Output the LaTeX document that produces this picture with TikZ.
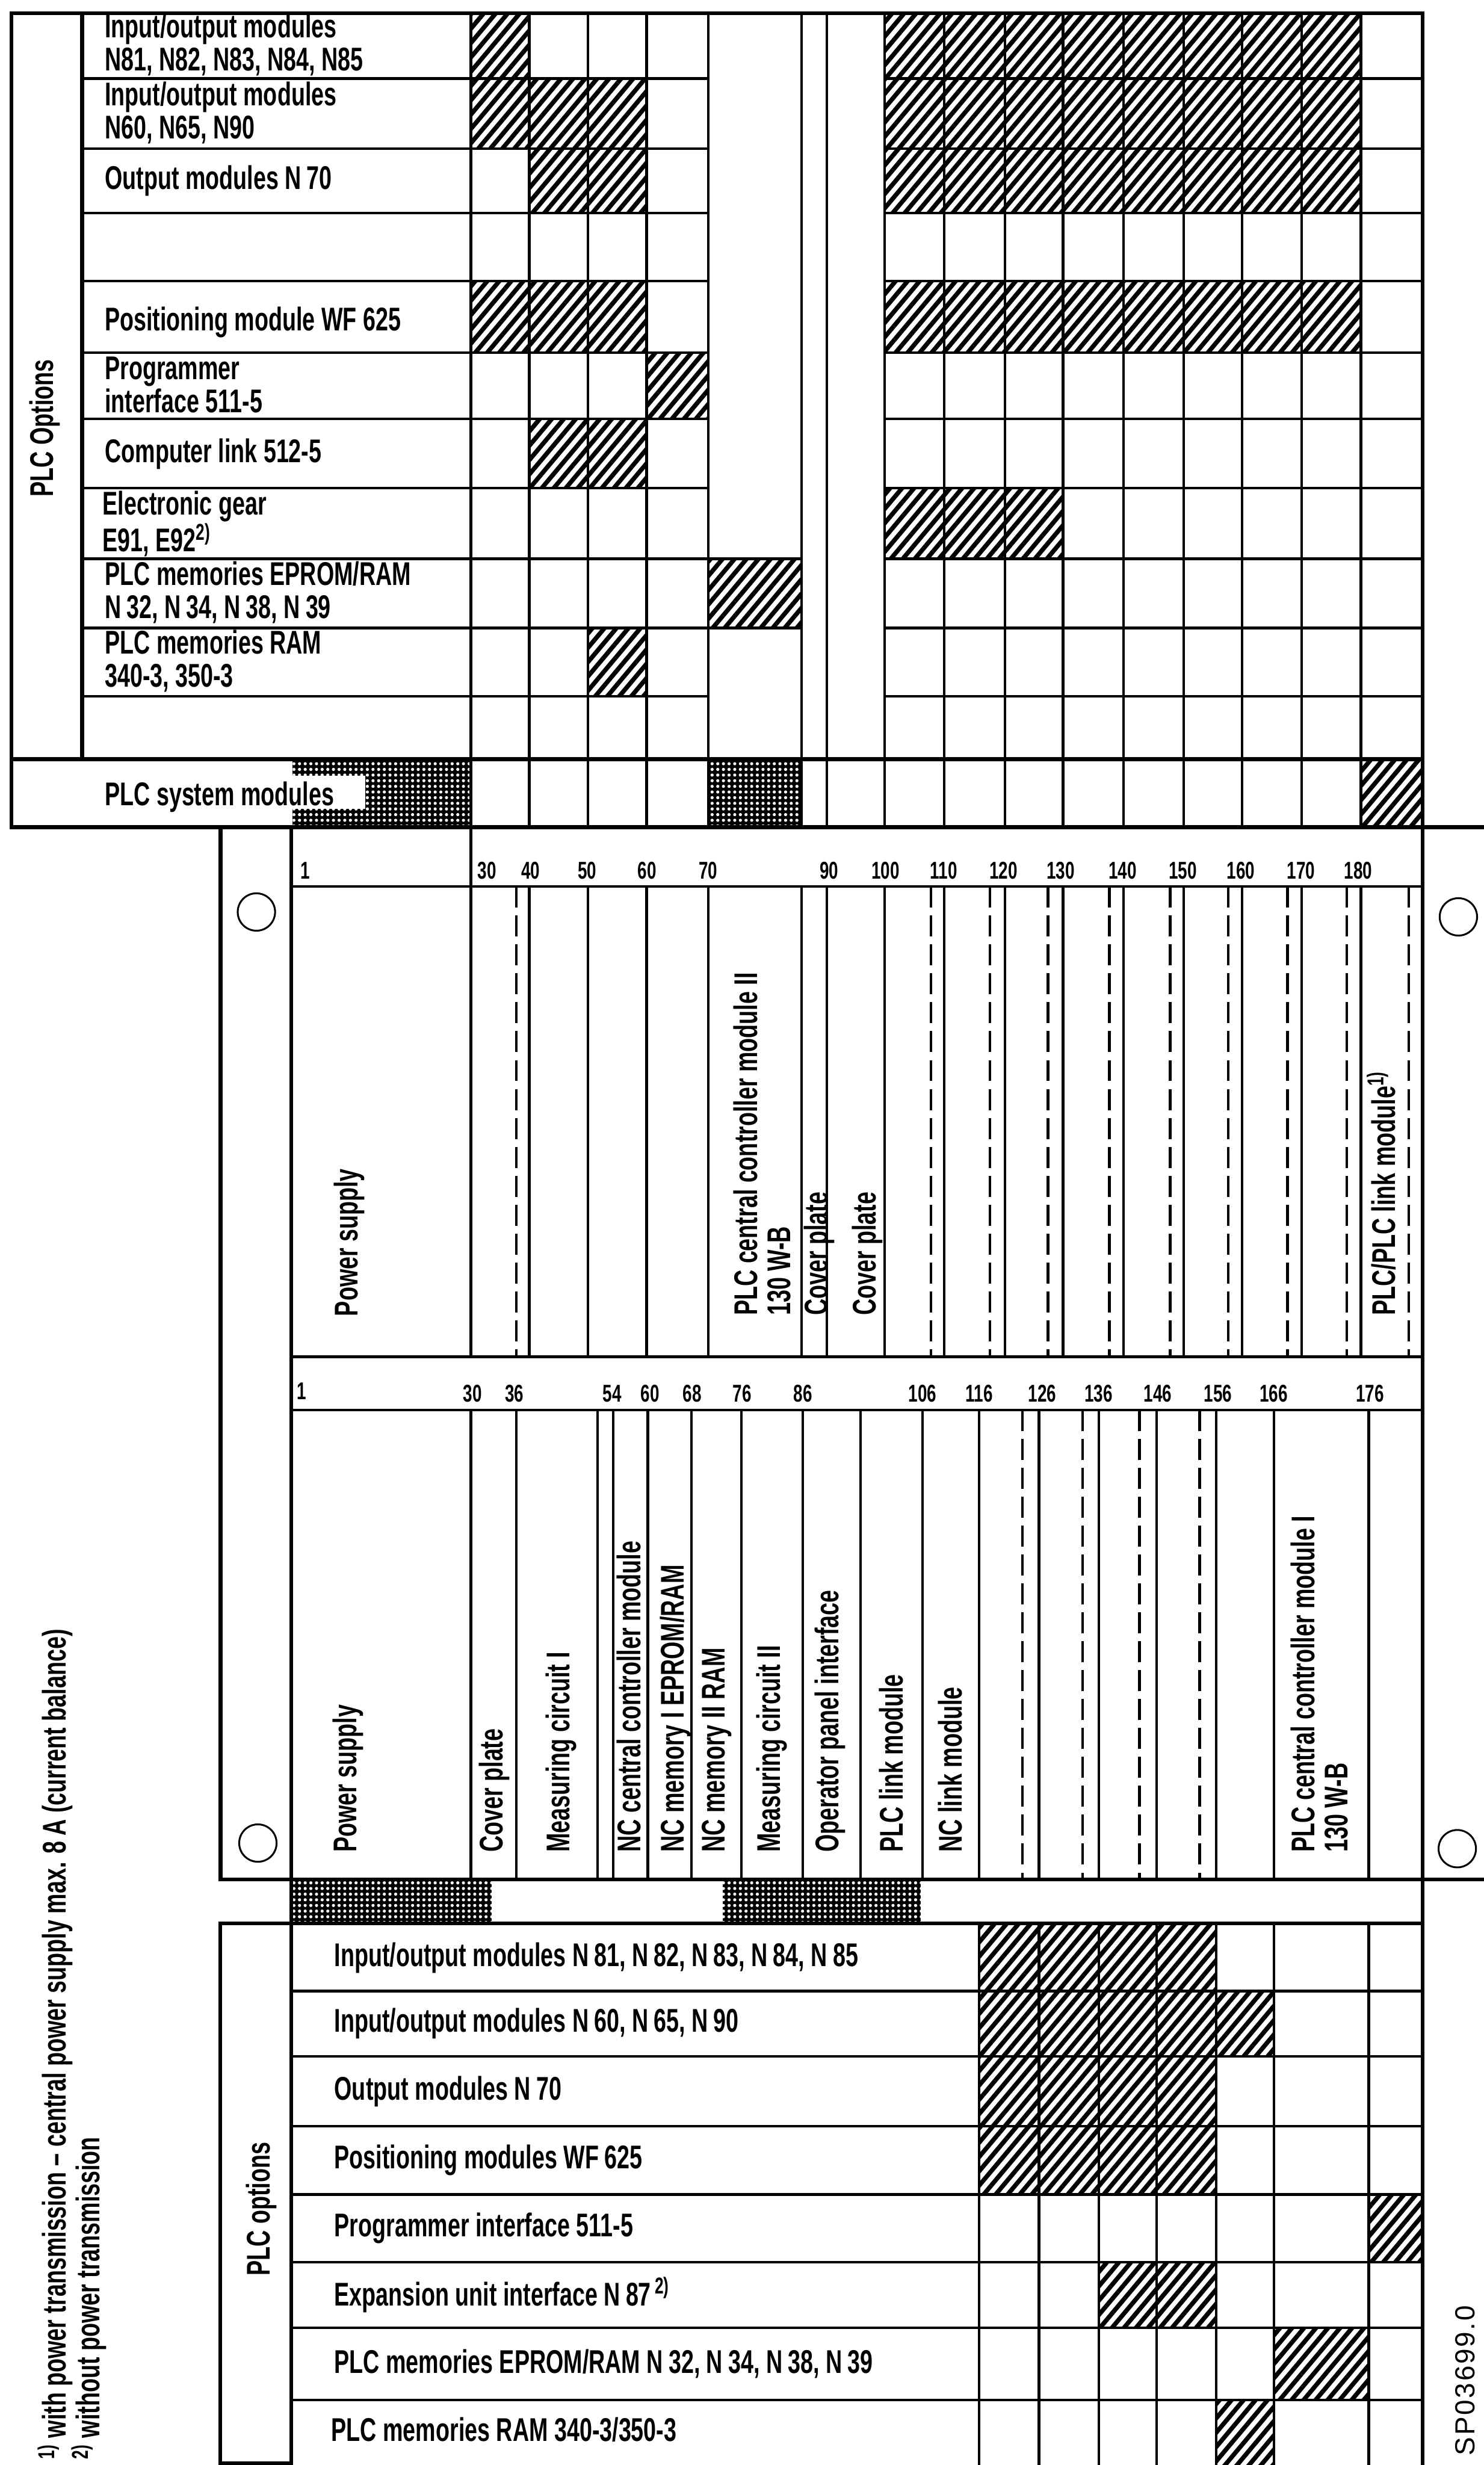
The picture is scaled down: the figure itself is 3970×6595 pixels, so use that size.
\documentclass[tikz,border=0pt]{standalone}
\usepackage{fontspec}
\setmainfont{Liberation Sans}[FakeStretch=0.69]
\newfontfamily\plainfont{Liberation Sans}[LetterSpace=6]
\usetikzlibrary{patterns.meta}

\begin{document}
\begin{tikzpicture}[x=0.01cm, y=-0.01cm, line cap=rect,
        grid_line/.style={draw=black, line width=2pt},
        frame_line/.style={draw=black, line width=2.9pt},
        dash_line/.style={draw=black, line width=2pt, line cap=butt, dash pattern=on 16pt off 6pt},
        hatch_style/.style={pattern={Lines[angle=50, distance=7pt, line width=3.4pt]}, pattern color=black},
        dots_style/.style={fill=black, postaction={pattern={Dots[distance=4.3pt, radius=1.2pt]}, pattern color=white}},
        row_text/.style={anchor=west, inner sep=0pt, align=left, font=\fontsize{25}{25}\selectfont\bfseries},
        slot_text/.style={anchor=north west, rotate=90, inner sep=0pt, align=left, font=\fontsize{25}{25}\selectfont\bfseries},
        num_text/.style={anchor=base, inner sep=0pt, font=\fontsize{18.5}{20}\selectfont\bfseries},
        hole_style/.style={draw=black, line width=1.4pt}]

        \useasboundingbox (0,0) rectangle (3970,6595);

        \path [hatch_style] (1260,35) rectangle (1416,210);

        \path [hatch_style] (2367,35) rectangle (3641,570);

        \path [hatch_style] (1260,210) rectangle (1730,398);

        \path [hatch_style] (1416,398) rectangle (1730,570);

        \path [hatch_style] (1260,752) rectangle (1730,943);

        \path [hatch_style] (2367,752) rectangle (3641,943);

        \path [hatch_style] (1730,943) rectangle (1895,1121);

        \path [hatch_style] (1416,1121) rectangle (1730,1306);

        \path [hatch_style] (2367,1306) rectangle (2844,1495);

        \path [hatch_style] (1895,1495) rectangle (2145,1680);

        \path [hatch_style] (1573,1680) rectangle (1730,1863);

        \path [hatch_style] (3641,2031) rectangle (3806,2213);

        \path [dots_style] (783,2031) rectangle (1260,2213);

        \fill [white] (783,2076) rectangle (978,2164);

        \path [dots_style] (1895,2031) rectangle (2145,2213);

        \path [dots_style] (784,5028) rectangle (1316,5146);

        \path [dots_style] (1934,5028) rectangle (2464,5146);

        \path [hatch_style] (2620,5146) rectangle (3254,5871);

        \path [hatch_style] (3254,5327) rectangle (3409,5502);

        \path [hatch_style] (3662,5871) rectangle (3806,6052);

        \path [hatch_style] (2940,6052) rectangle (3254,6228);

        \path [hatch_style] (3409,6228) rectangle (3662,6421);

        \path [hatch_style] (3254,6421) rectangle (3409,6595);

        \foreach \y in {210,398,570,752,943,1121,1306,1863}
            \draw [grid_line] (220,\y) -- (1895,\y) (2367,\y) -- (3806,\y);

        \foreach \y in {1495,1680}
            \draw [grid_line] (220,\y) -- (2145,\y) (2367,\y) -- (3806,\y);

        \foreach \x in {1260,1416,1573,1730,1895,2145,2212,2367,2526,2689,2844,3006,3167,3323,3483,3641}
            \draw [grid_line] (\x,35) -- (\x,2213);

        \draw [frame_line] (31,35) rectangle (3806,2213);

        \draw [frame_line] (220,35) -- (220,2031);

        \draw [frame_line] (31,2031) -- (3806,2031);

        \draw [frame_line] (3806,2213) -- (3970,2213);

        \draw [frame_line] (590,2213) -- (590,5028) -- (3970,5028);

        \draw [frame_line] (779,2213) -- (779,6595);

        \draw [frame_line] (3806,2213) -- (3806,6595);

        \draw [grid_line] (779,2372) -- (3806,2372);

        \draw [grid_line] (779,3630) -- (3806,3630);

        \draw [grid_line] (779,3772) -- (3806,3772);

        \draw [grid_line] (1260,2213) -- (1260,3630);

        \foreach \x in {1416,1573,1730,1895,2145,2212,2367,2526,2689,2844,3006,3167,3323,3483,3641}
            \draw [grid_line] (\x,2372) -- (\x,3630);

        \foreach \x in {1381,2491,2649,2804,2968,3131,3286,3445,3603,3769}
            \draw [dash_line] (\x,2372) -- (\x,3630);

        \foreach \x in {1260,1381,1599,1641,1733,1850,1984,2148,2302,2468,2620,2780,2940,3095,3254,3409,3662}
            \draw [grid_line] (\x,3772) -- (\x,5028);

        \foreach \x in {2736,2897,3049,3210}
            \draw [dash_line] (\x,3772) -- (\x,5028);

        \draw [frame_line] (589,5146) -- (3806,5146);

        \draw [frame_line] (589,5146) -- (589,6590) -- (779,6590);

        \foreach \y in {5327,5502,5688,5871,6052,6228,6421}
            \draw [grid_line] (779,\y) -- (3806,\y);

        \foreach \x in {2620,2780,2940,3095,3254,3409,3662}
            \draw [grid_line] (\x,5146) -- (\x,6595);

        \draw [hole_style] (686,2440) circle [radius=0.5cm];

        \draw [hole_style] (690,4931) circle [radius=0.5cm];

        \draw [hole_style] (3902,2453) circle [radius=0.5cm];

        \draw [hole_style] (3899,4946) circle [radius=0.5cm];

        \node [slot_text, anchor=center](opt_top) at (120,1145) {PLC Options};

        \node [row_text](t1) at (280,120) {Input/output modules\\N81, N82, N83, N84, N85};

        \node [row_text](t2) at (280,302) {Input/output modules\\N60, N65, N90};

        \node [row_text](t3) at (280,484) {Output modules N\,70};

        \node [row_text](t5) at (280,862) {Positioning module WF 625};

        \node [row_text](t6) at (280,1030) {Programmer\\interface 511-5};

        \node [row_text](t7) at (280,1215) {Computer link 512-5};

        \node [row_text](t8) at (274,1402) {Electronic gear\\E91, E92\textsuperscript{2)}};

        \node [row_text](t9) at (280,1585) {PLC memories EPROM/RAM\\N\,32, N\,34, N\,38, N\,39};

        \node [row_text](t10) at (280,1769) {PLC memories RAM\\340-3, 350-3};

        \node [row_text](t12) at (280,2132) {PLC system modules};

        \node [num_text](u1) at (816,2352) {1};

        \node [num_text](u30) at (1303,2352) {30};

        \node [num_text](u40) at (1420,2352) {40};

        \node [num_text](u50) at (1571,2352) {50};

        \node [num_text](u60) at (1731,2352) {60};

        \node [num_text](u70) at (1895,2352) {70};

        \node [num_text](u90) at (2218,2352) {90};

        \node [num_text](u100) at (2369,2352) {100};

        \node [num_text](u110) at (2525,2352) {110};

        \node [num_text](u120) at (2685,2352) {120};

        \node [num_text](u130) at (2838,2352) {130};

        \node [num_text](u140) at (3004,2352) {140};

        \node [num_text](u150) at (3165,2352) {150};

        \node [num_text](u160) at (3320,2352) {160};

        \node [num_text](u170) at (3481,2352) {170};

        \node [num_text](u180) at (3634,2352) {180};

        \node [slot_text](s_ps1) at (893,3522) {Power supply};

        \node [slot_text](s_cpu2) at (1962,3520) {PLC central controller module II\\130 W-B};

        \node [slot_text](s_cov1) at (2150,3520) {Cover plate};

        \node [slot_text](s_cov2) at (2279,3520) {Cover plate};

        \node [slot_text](s_link) at (3656,3520) {PLC/PLC link module\textsuperscript{1)}};

        \node [num_text](l1) at (807,3744) {1};

        \node [num_text](l30) at (1264,3750) {30};

        \node [num_text](l36) at (1376,3750) {36};

        \node [num_text](l54) at (1638,3750) {54};

        \node [num_text](l60) at (1739,3750) {60};

        \node [num_text](l68) at (1852,3750) {68};

        \node [num_text](l76) at (1986,3750) {76};

        \node [num_text](l86) at (2148,3750) {86};

        \node [num_text](l106) at (2468,3750) {106};

        \node [num_text](l116) at (2620,3750) {116};

        \node [num_text](l126) at (2789,3750) {126};

        \node [num_text](l136) at (2939,3750) {136};

        \node [num_text](l146) at (3098,3750) {146};

        \node [num_text](l156) at (3259,3750) {156};

        \node [num_text](l166) at (3408,3750) {166};

        \node [num_text](l176) at (3665,3750) {176};

        \node [slot_text](s_ps2) at (890,4956) {Power supply};

        \node [slot_text](s_cov3) at (1281,4956) {Cover plate};

        \node [slot_text](s_mc1) at (1460,4956) {Measuring circuit I};

        \node [slot_text](s_nccpu) at (1649,4956) {NC central controller module};

        \node [slot_text](s_mem1) at (1766,4956) {NC memory I EPROM/RAM};

        \node [slot_text](s_mem2) at (1878,4956) {NC memory II RAM};

        \node [slot_text](s_mc2) at (2023,4956) {Measuring circuit II};

        \node [slot_text](s_opi) at (2179,4956) {Operator panel interface};

        \node [slot_text](s_plclink) at (2352,4956) {PLC link module};

        \node [slot_text](s_nclink) at (2510,4956) {NC link module};

        \node [slot_text](s_cpu1) at (3453,4956) {PLC central controller module I\\130 W-B};

        \node [slot_text, anchor=center](opt_bot) at (700,5910) {PLC options};

        \node [row_text](b1) at (894,5238) {Input/output modules N\,81, N\,82, N\,83, N\,84, N\,85};

        \node [row_text](b2) at (894,5414) {Input/output modules N\,60, N\,65, N\,90};

        \node [row_text](b3) at (894,5595) {Output modules N\,70};

        \node [row_text](b4) at (894,5779) {Positioning modules WF\,625};

        \node [row_text](b5) at (894,5961) {Programmer interface 511-5};

        \node [row_text](b6) at (894,6140) {Expansion unit interface N\,87\textsuperscript{\,2)}};

        \node [row_text](b7) at (894,6324) {PLC memories EPROM/RAM N\,32, N\,34, N\,38, N\,39};

        \node [row_text](b8) at (886,6500) {PLC memories RAM 340-3/350-3};

        \node [slot_text](fn1) at (100,6580) {\textsuperscript{1)} with power transmission – central power supply max. 8\,A (current balance)};

        \node [slot_text](fn2) at (190,6580) {\textsuperscript{2)} without power transmission};

        \node [rotate=90, anchor=north west, inner sep=0pt, font=\plainfont\fontsize{21}{24}\selectfont](sp_code) at (3893,6570) {SP03699.0};

        \end{tikzpicture}
\end{document}
